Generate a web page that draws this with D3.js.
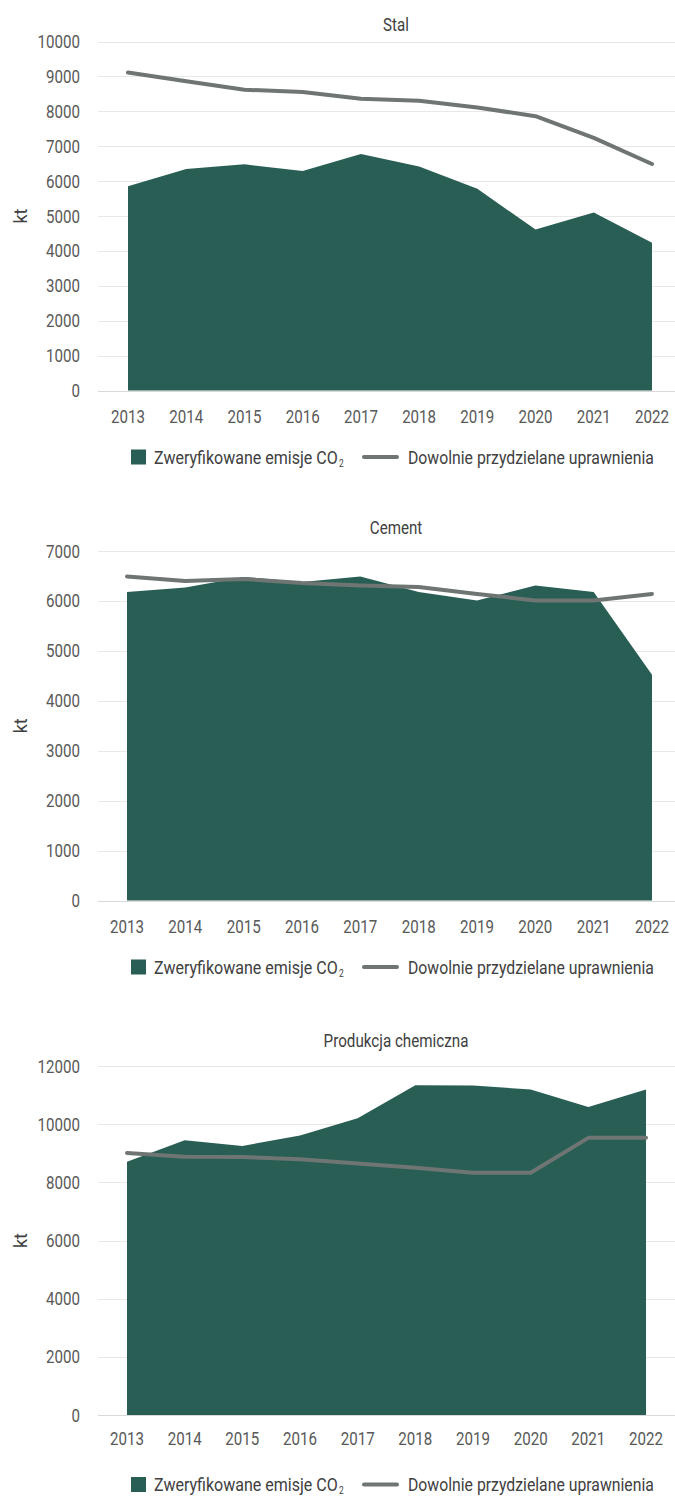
<!DOCTYPE html>
<html>
<head>
<meta charset="utf-8">
<script src="https://cdn.jsdelivr.net/npm/d3@7"></script>
<style>
  body { margin: 0; background: #fff; }
  text { font-family: Roboto, "Noto Sans", sans-serif; }
</style>
</head>
<body>
<div id="chart"></div>
<script>
// data (kt)
var years = [2013, 2014, 2015, 2016, 2017, 2018, 2019, 2020, 2021, 2022];

var stalEmisje = [5850, 6350, 6480, 6290, 6780, 6420, 5780, 4610, 5100, 4230];
var stalUprawnienia = [9110, 8860, 8620, 8550, 8360, 8300, 8110, 7860, 7240, 6490];

var cementEmisje = [6180, 6270, 6480, 6380, 6490, 6180, 6010, 6310, 6180, 4520];
var cementUprawnienia = [6490, 6400, 6440, 6360, 6310, 6280, 6140, 6010, 6010, 6140];

var chemEmisje = [8710, 9450, 9250, 9610, 10200, 11340, 11330, 11190, 10590, 11190];
var chemUprawnienia = [9010, 8880, 8870, 8790, 8650, 8500, 8330, 8330, 9530, 9530];

var titles = ["Stal", "Cement", "Produkcja chemiczna"];
var yMax = [10000, 7000, 12000];
var yStep = [1000, 1000, 2000];
var legendEmisje = "Zweryfikowane emisje CO";
var legendUprawnienia = "Dowolnie przydzielane uprawnienia";

var width = 675, height = 1497;
var areaColor = "#295e55";
var lineColor = "#6e7572";
var narrow = 0.84; // reference font is a condensed face

// layout per panel
var panels = [
  { top: 41.5, bottom: 390.5, x0: 128, x1: 652, titleY: 31, labelY: 423, legendY: 457, em: stalEmisje, up: stalUprawnienia },
  { top: 551, bottom: 900.5, x0: 127, x1: 652, titleY: 534, labelY: 933, legendY: 967, em: cementEmisje, up: cementUprawnienia },
  { top: 1066, bottom: 1415, x0: 127, x1: 646, titleY: 1047, labelY: 1445, legendY: 1484.5, em: chemEmisje, up: chemUprawnienia }
];

var svg = d3.select("#chart").append("svg")
  .attr("width", width)
  .attr("height", height);

// text squeezed horizontally around its anchor point
function label(g, x, y, str, size, color, anchor, targetWidth) {
  var t = g.append("text")
    .attr("font-size", size)
    .attr("fill", color)
    .attr("text-anchor", anchor || "start")
    .text(str);
  var k = narrow;
  if (targetWidth) k = targetWidth / t.node().getComputedTextLength();
  t.attr("transform", "translate(" + x + "," + y + ") scale(" + k + ",1)");
  return t;
}

panels.forEach(function(p, i) {
  var g = svg.append("g");

  var x = d3.scalePoint().domain(years).range([p.x0, p.x1]);
  var y = d3.scaleLinear().domain([0, yMax[i]]).range([p.bottom, p.top]);
  var ticks = d3.range(0, yMax[i] + 1, yStep[i]);

  // grid
  g.selectAll(".grid").data(ticks).enter().append("line")
    .attr("x1", 98).attr("x2", width)
    .attr("y1", function(d) { return Math.round(y(d)) + 0.5; })
    .attr("y2", function(d) { return Math.round(y(d)) + 0.5; })
    .attr("stroke", function(d) { return d === 0 ? "#d9d9d9" : "#e8e8e8"; })
    .attr("stroke-width", 1);

  // y labels
  ticks.forEach(function(d) {
    label(g, 80, y(d) + 6.5, d, 18, "#595959", "end");
  });

  // area
  var area = d3.area()
    .x(function(d, j) { return x(years[j]); })
    .y0(y(0))
    .y1(function(d) { return y(d); });
  g.append("path")
    .datum(p.em)
    .attr("d", area)
    .attr("fill", areaColor);

  // line
  var line = d3.line()
    .x(function(d, j) { return x(years[j]); })
    .y(function(d) { return y(d); });
  g.append("path")
    .datum(p.up)
    .attr("d", line)
    .attr("fill", "none")
    .attr("stroke", lineColor)
    .attr("stroke-width", 4)
    .attr("stroke-linejoin", "round")
    .attr("stroke-linecap", "round");

  // x labels
  years.forEach(function(d) {
    label(g, x(d), p.labelY, d, 18, "#595959", "middle");
  });

  // title
  label(g, 396, p.titleY, titles[i], 18, "#404040", "middle", i === 2 ? 145 : null);

  // axis title
  g.append("text")
    .attr("transform", "translate(27," + ((p.top + p.bottom) / 2) + ") rotate(-90)")
    .attr("text-anchor", "middle")
    .attr("font-size", 18)
    .attr("fill", "#404040")
    .text("kt");

  // legend
  g.append("rect")
    .attr("x", 131).attr("y", p.legendY - 7.5)
    .attr("width", 15).attr("height", 15)
    .attr("fill", areaColor);
  label(g, 154, p.legendY + 6.5, legendEmisje, 18, "#404040", "start", 184);
  label(g, 339, p.legendY + 9.5, "2", 10, "#404040", "start");

  g.append("line")
    .attr("x1", 364).attr("x2", 397)
    .attr("y1", p.legendY).attr("y2", p.legendY)
    .attr("stroke", lineColor)
    .attr("stroke-width", 4)
    .attr("stroke-linecap", "round");
  label(g, 408, p.legendY + 6.5, legendUprawnienia, 18, "#404040", "start", 246);
});
</script>
</body>
</html>
